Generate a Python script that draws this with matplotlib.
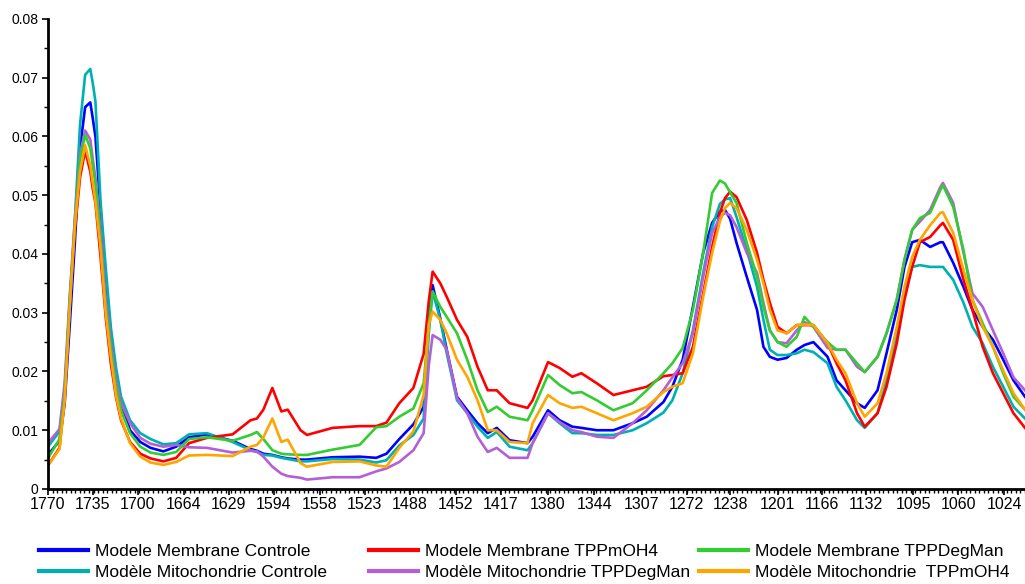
import numpy as np
import matplotlib
matplotlib.use("Agg")
import matplotlib.pyplot as plt
from matplotlib.ticker import FixedLocator, FuncFormatter, MultipleLocator

plt.rcParams['font.family'] = ['Liberation Sans', 'DejaVu Sans']

# ---------------------------------------------------------------
# Spectra (wavenumber in cm-1, absorbance).
# ---------------------------------------------------------------
wn = [1770, 1761, 1757, 1753, 1749, 1745, 1741, 1737, 1735, 1733, 1729, 1725, 1721, 1717, 1713,
      1706, 1698, 1690, 1680, 1670, 1660, 1646, 1626, 1612, 1607, 1602, 1595, 1588, 1583, 1573,
      1568, 1548, 1527, 1514, 1506, 1496, 1485, 1477, 1473, 1470, 1464, 1459, 1451, 1443, 1435,
      1427, 1420, 1410, 1396, 1392, 1380, 1371, 1361, 1354, 1342, 1329, 1314, 1303, 1290, 1283,
      1275, 1267, 1259, 1252, 1246, 1242, 1238, 1233, 1225, 1217, 1212, 1207, 1201, 1194, 1186,
      1180, 1173, 1162, 1155, 1148, 1139, 1133, 1123, 1116, 1108, 1102, 1096, 1090, 1082, 1074,
      1072, 1064, 1056, 1049, 1041, 1033, 1025, 1017, 1008]

memb_ctrl = [0.0058, 0.0082, 0.0145, 0.028, 0.042, 0.058, 0.065, 0.0658, 0.063, 0.060, 0.0475, 0.036, 0.0265, 0.0197, 0.0146,
             0.010, 0.008, 0.007, 0.0064, 0.0072, 0.0088, 0.0093, 0.0082, 0.0068, 0.0065, 0.006, 0.0058, 0.0054, 0.0052, 0.005,
             0.005, 0.0054, 0.0055, 0.0053, 0.006, 0.0085, 0.011, 0.014, 0.029, 0.0347, 0.029, 0.0237, 0.0157, 0.0134, 0.0112,
             0.0095, 0.0104, 0.0083, 0.0078, 0.0089, 0.0134, 0.0117, 0.0106, 0.0104, 0.010, 0.010, 0.0112, 0.0123, 0.0148, 0.0174,
             0.022, 0.031, 0.0402, 0.0453, 0.0472, 0.0475, 0.046, 0.0419, 0.0361, 0.0305, 0.0242, 0.0225, 0.022, 0.0223, 0.0237,
             0.0245, 0.025, 0.0225, 0.0185, 0.0168, 0.0146, 0.0138, 0.0168, 0.0231, 0.0305, 0.0378, 0.042, 0.0424, 0.0412, 0.042,
             0.042, 0.0385, 0.0344, 0.0305, 0.0276, 0.0254, 0.022, 0.0185, 0.0157]

memb_tppmoh4 = [0.004, 0.007, 0.0155, 0.032, 0.044, 0.053, 0.0576, 0.054, 0.051, 0.0487, 0.0395, 0.0293, 0.0214, 0.0157, 0.0117,
                0.008, 0.006, 0.0052, 0.0047, 0.0053, 0.0078, 0.0087, 0.0093, 0.0117, 0.012, 0.0135, 0.0172, 0.0132, 0.0135, 0.010,
                0.0092, 0.0104, 0.0107, 0.0107, 0.0113, 0.0146, 0.0172, 0.023, 0.032, 0.037, 0.035, 0.0327, 0.0288, 0.0259, 0.0208,
                0.0168, 0.0168, 0.0146, 0.0138, 0.0151, 0.0216, 0.0206, 0.0191, 0.0197, 0.018, 0.016, 0.0168, 0.0174, 0.0192, 0.0194,
                0.0197, 0.0242, 0.0333, 0.0412, 0.047, 0.0495, 0.0506, 0.0497, 0.0458, 0.0402, 0.0356, 0.0317, 0.0276, 0.0265, 0.0279,
                0.0279, 0.0279, 0.0248, 0.0214, 0.0185, 0.0129, 0.0106, 0.0129, 0.0174, 0.0248, 0.0322, 0.0378, 0.042, 0.0429, 0.0449,
                0.0453, 0.0424, 0.0356, 0.0305, 0.0242, 0.0197, 0.0163, 0.0129, 0.0104]

memb_tppdegman = [0.0052, 0.0085, 0.016, 0.032, 0.045, 0.056, 0.0603, 0.058, 0.055, 0.052, 0.042, 0.031, 0.0237, 0.0174, 0.0134,
                  0.0095, 0.0072, 0.0062, 0.0058, 0.0063, 0.0085, 0.0088, 0.0082, 0.0092, 0.0097, 0.0085, 0.0066, 0.006, 0.0059, 0.0058,
                  0.0058, 0.0067, 0.0075, 0.0105, 0.0107, 0.0123, 0.0137, 0.018, 0.028, 0.0336, 0.031, 0.0293, 0.0265, 0.022, 0.0168,
                  0.0131, 0.014, 0.0123, 0.0117, 0.0134, 0.0194, 0.0177, 0.0163, 0.0165, 0.0151, 0.0134, 0.0146, 0.0168, 0.0197, 0.0214,
                  0.024, 0.0305, 0.0402, 0.0504, 0.0525, 0.052, 0.0505, 0.0487, 0.0419, 0.0361, 0.031, 0.027, 0.025, 0.0242, 0.0259,
                  0.0293, 0.0276, 0.025, 0.0237, 0.0237, 0.0214, 0.0199, 0.0225, 0.0265, 0.0322, 0.039, 0.0441, 0.0461, 0.047, 0.0509,
                  0.0517, 0.048, 0.0407, 0.0322, 0.0282, 0.0242, 0.0197, 0.0157, 0.0135]

mito_ctrl = [0.0072, 0.0098, 0.017, 0.031, 0.046, 0.062, 0.0705, 0.0715, 0.069, 0.066, 0.049, 0.0378, 0.0276, 0.0208, 0.0157,
             0.0117, 0.0095, 0.0085, 0.0076, 0.0078, 0.0093, 0.0095, 0.008, 0.0066, 0.0063, 0.0058, 0.0057, 0.0053, 0.0051, 0.0047,
             0.0047, 0.0051, 0.005, 0.0045, 0.0049, 0.0074, 0.0092, 0.012, 0.0265, 0.0336, 0.0288, 0.0231, 0.0151, 0.0129, 0.0106,
             0.0087, 0.0097, 0.0072, 0.0066, 0.0078, 0.0129, 0.0112, 0.0095, 0.0095, 0.0092, 0.0092, 0.010, 0.0112, 0.013, 0.0151,
             0.0197, 0.027, 0.0368, 0.0446, 0.0485, 0.0493, 0.0495, 0.0463, 0.0407, 0.0344, 0.0288, 0.0237, 0.0228, 0.0228, 0.0231,
             0.0237, 0.0233, 0.0214, 0.0174, 0.0151, 0.0117, 0.0104, 0.0129, 0.0185, 0.0265, 0.0339, 0.0378, 0.0381, 0.0378, 0.0378,
             0.0378, 0.0356, 0.0317, 0.0276, 0.0248, 0.0208, 0.0174, 0.014, 0.012]

mito_tppdegman = [0.0078, 0.0102, 0.018, 0.033, 0.046, 0.057, 0.061, 0.0595, 0.056, 0.053, 0.044, 0.0327, 0.0248, 0.0186, 0.0146,
                  0.0112, 0.0087, 0.0077, 0.0072, 0.0075, 0.0071, 0.007, 0.0062, 0.0065, 0.0064, 0.0055, 0.0038, 0.0026, 0.0022, 0.0019,
                  0.0016, 0.002, 0.002, 0.003, 0.0035, 0.0046, 0.0066, 0.0095, 0.021, 0.0262, 0.0254, 0.0237, 0.0155, 0.0129, 0.0089,
                  0.0063, 0.007, 0.0053, 0.0053, 0.0078, 0.0129, 0.0114, 0.010, 0.0097, 0.0089, 0.0087, 0.0112, 0.0134, 0.0168, 0.019,
                  0.0214, 0.0265, 0.0361, 0.0436, 0.0462, 0.047, 0.0466, 0.0446, 0.0402, 0.0368, 0.0317, 0.027, 0.025, 0.0248, 0.027,
                  0.0284, 0.0276, 0.024, 0.0237, 0.0237, 0.0208, 0.0199, 0.0225, 0.0265, 0.0322, 0.039, 0.0441, 0.0455, 0.0475, 0.0514,
                  0.0521, 0.0487, 0.0402, 0.0333, 0.031, 0.027, 0.0231, 0.019, 0.0168]

mito_tppmoh4 = [0.004, 0.0068, 0.015, 0.031, 0.045, 0.054, 0.0585, 0.055, 0.052, 0.049, 0.041, 0.030, 0.0225, 0.016, 0.012,
                0.0078, 0.0055, 0.0045, 0.0041, 0.0046, 0.0057, 0.0058, 0.0056, 0.0072, 0.0075, 0.0088, 0.012, 0.008, 0.0084, 0.0044,
                0.0038, 0.0046, 0.0047, 0.004, 0.0038, 0.007, 0.0098, 0.016, 0.028, 0.0302, 0.0288, 0.0265, 0.022, 0.0191, 0.0151,
                0.010, 0.010, 0.008, 0.0078, 0.0112, 0.016, 0.0146, 0.0138, 0.014, 0.0129, 0.0117, 0.0129, 0.014, 0.0165, 0.0174,
                0.018, 0.0231, 0.0327, 0.0402, 0.0455, 0.0478, 0.0487, 0.0478, 0.0441, 0.039, 0.035, 0.0305, 0.027, 0.0265, 0.0279,
                0.028, 0.0279, 0.0248, 0.022, 0.0197, 0.0146, 0.0123, 0.0146, 0.0197, 0.0276, 0.0344, 0.0395, 0.0424, 0.0449, 0.047,
                0.0471, 0.0436, 0.0373, 0.0322, 0.0276, 0.0242, 0.0202, 0.0163, 0.0135]

tick_labels = ["1770", "1735", "1700", "1664", "1629", "1594", "1558", "1523", "1488", "1452", "1417",
               "1380", "1344", "1307", "1272", "1238", "1201", "1166", "1132", "1095", "1060", "1024"]

# legend columns: (top entry, bottom entry)
columns = [
    [("Modele Membrane Controle", memb_ctrl, "#0000ff"),
     ("Modèle Mitochondrie Controle", mito_ctrl, "#00b0b0")],
    [("Modele Membrane TPPmOH4", memb_tppmoh4, "#ff0000"),
     ("Modèle Mitochondrie TPPDegMan", mito_tppdegman, "#b45fd6")],
    [("Modele Membrane TPPDegMan", memb_tppdegman, "#33cc33"),
     ("Modèle Mitochondrie  TPPmOH4", mito_tppmoh4, "#ffa500")],
]

fig = plt.figure(figsize=(10.25, 5.84), dpi=100)
ax = fig.add_axes([0.0468, 0.1627, 0.9532, 0.8048])

col_handles = []
for col in columns:
    hs = []
    for name, vals, c in col:
        h, = ax.plot(wn, vals, color=c, lw=1.9, label=name)
        hs.append(h)
    col_handles.append(hs)

ax.set_xlim(1770, 1008)
ax.set_ylim(0, 0.08)

# x ticks: labelled at the sample wavenumbers, fine minor ticks in between
tick_pos = [float(t) for t in tick_labels]
ax.xaxis.set_major_locator(FixedLocator(tick_pos))
ax.set_xticklabels(tick_labels)
ax.xaxis.set_minor_locator(FixedLocator(np.linspace(1770, 1008, 215)))
ax.yaxis.set_major_locator(MultipleLocator(0.01))
ax.yaxis.set_minor_locator(MultipleLocator(0.005))
ax.yaxis.set_major_formatter(FuncFormatter(lambda v, p: "0" if v == 0 else f"{v:.2f}"))

ax.tick_params(axis="y", which="major", labelsize=10, length=4, width=1.2, pad=3)
ax.tick_params(axis="x", which="major", labelsize=11.5, length=4, width=1.2, pad=2)
ax.tick_params(axis="both", which="minor", length=3, width=1.0)

for s in ["top", "right"]:
    ax.spines[s].set_visible(False)
ax.spines["left"].set_linewidth(2)
ax.spines["bottom"].set_linewidth(2)

# one small legend per column, placed under the axis
for i, hs in enumerate(col_handles):
    x0 = (39 + 330 * i) / 1025
    leg = fig.legend(handles=hs, loc="upper left", bbox_to_anchor=(x0, 0.068), frameon=False,
                     fontsize=12.5, handlelength=2.8, handletextpad=0.4, labelspacing=0.33,
                     borderaxespad=0, borderpad=0)
    for line in leg.get_lines():
        line.set_linewidth(3)

fig.savefig("out.png", dpi=100)
